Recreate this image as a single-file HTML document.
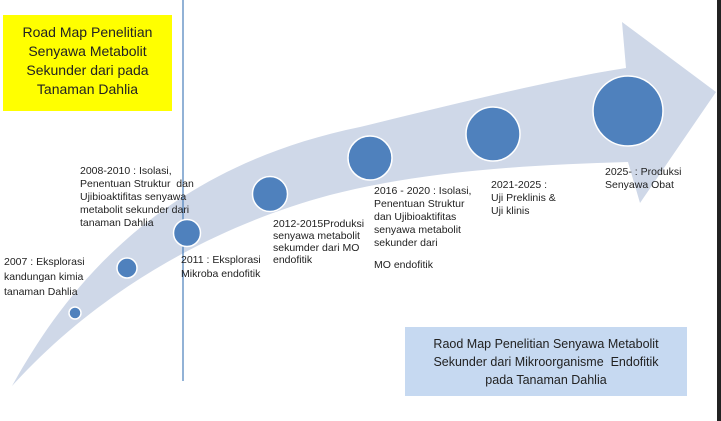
<!DOCTYPE html>
<html><head><meta charset="utf-8"><style>
html,body{margin:0;padding:0;background:#fff;}
body{width:721px;height:421px;position:relative;overflow:hidden;font-family:"Liberation Sans",sans-serif;}
.t{position:absolute;font-size:10.5px;line-height:13px;color:#222;white-space:nowrap;}
</style></head><body>
<svg width="721" height="421" style="position:absolute;left:0;top:0">
<path d="M12,386 C60,300 150,170 360,127 C450,105 560,78 626,68 L622,22 L716,92 L640,203 L628,162 C520,165 420,172 330,195 C200,230 90,300 12,386 Z" fill="#cfd8e8"/>
<line x1="183" y1="0" x2="183" y2="381" stroke="#4a7ebb" stroke-width="1.2"/>
<g fill="#4f81bd" stroke="#fff" stroke-width="1.5">
<circle cx="75" cy="313" r="6"/>
<circle cx="127" cy="268" r="10"/>
<circle cx="187" cy="233" r="13.5"/>
<circle cx="270" cy="194" r="17.5"/>
<circle cx="370" cy="158" r="22"/>
<circle cx="493" cy="134" r="27"/>
<circle cx="628" cy="111" r="35"/>
</g>
<rect x="717" y="0" width="4" height="421" fill="#222"/>
</svg>
<div style="position:absolute;left:3px;top:15px;width:169px;height:96px;background:#ffff00;"></div>
<div class="t" style="left:3px;top:23px;width:169px;text-align:center;font-size:14px;line-height:19px;">Road Map Penelitian<br>Senyawa Metabolit<br>Sekunder dari pada<br>Tanaman Dahlia</div>
<div style="position:absolute;left:405px;top:327px;width:282px;height:69px;background:#c6d9f1;"></div>
<div class="t" style="left:405px;top:335px;width:282px;text-align:center;font-size:12.5px;line-height:18px;">Raod Map Penelitian Senyawa Metabolit<br>Sekunder dari Mikroorganisme&nbsp; Endofitik<br>pada Tanaman Dahlia</div>
<div class="t" style="left:4px;top:255px;line-height:15px;">2007 : Eksplorasi<br>kandungan kimia<br>tanaman Dahlia</div>
<div class="t" style="left:80px;top:165px;">2008-2010 : Isolasi,<br>Penentuan Struktur&nbsp; dan<br>Ujibioaktifitas senyawa<br>metabolit sekunder dari<br>tanaman Dahlia</div>
<div class="t" style="left:181px;top:253px;line-height:14px;">2011 : Eksplorasi<br>Mikroba endofitik</div>
<div class="t" style="left:273px;top:218px;line-height:12px;">2012-2015Produksi<br>senyawa metabolit<br>sekumder dari MO<br>endofitik</div>
<div class="t" style="left:374px;top:185px;">2016 - 2020 : Isolasi,<br>Penentuan Struktur<br>dan Ujibioaktifitas<br>senyawa metabolit<br>sekunder dari</div>
<div class="t" style="left:374px;top:259px;">MO endofitik</div>
<div class="t" style="left:491px;top:179px;">2021-2025 :<br>Uji Preklinis &amp;<br>Uji klinis</div>
<div class="t" style="left:605px;top:166px;">2025- : Produksi<br>Senyawa Obat</div>
</body></html>
